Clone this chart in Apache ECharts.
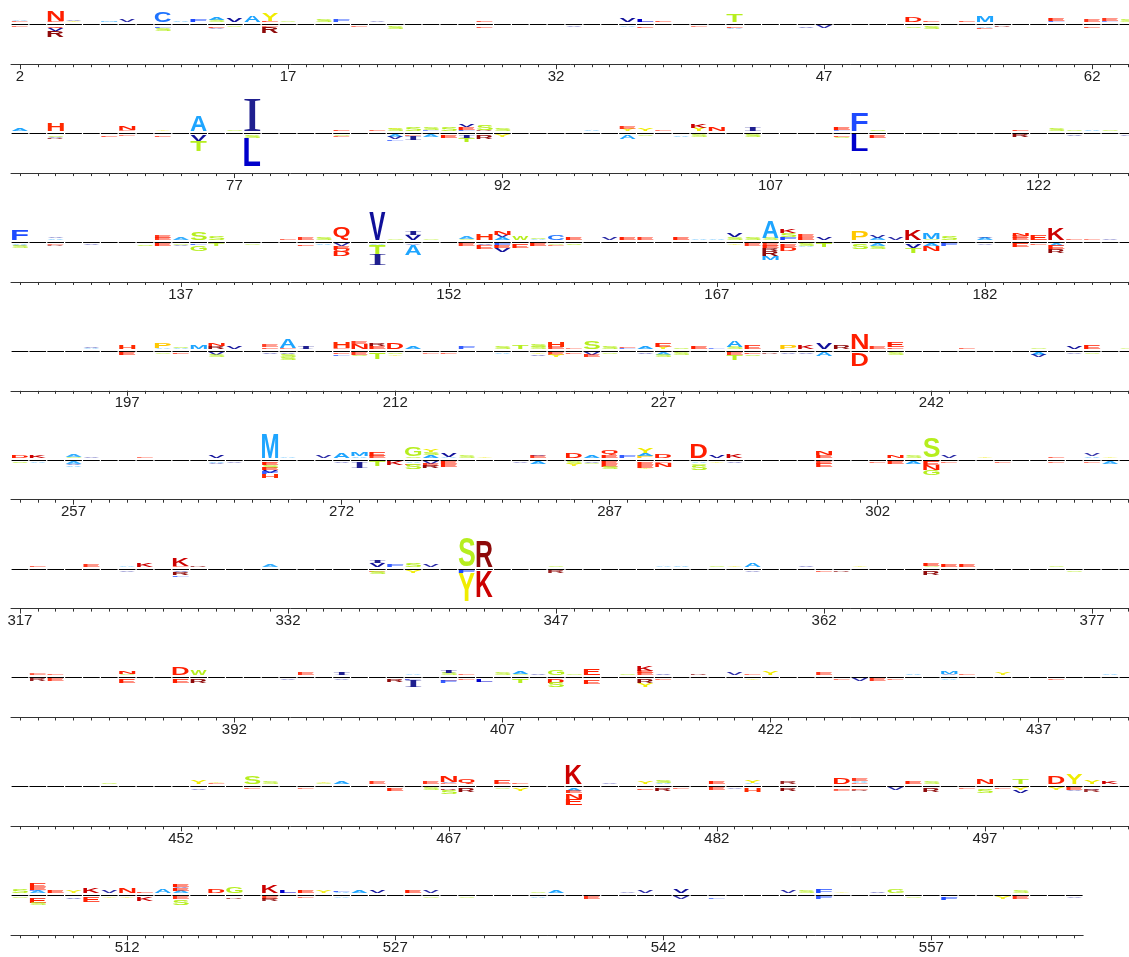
<!DOCTYPE html>
<html>
<head>
<meta charset="utf-8">
<script src="https://cdn.jsdelivr.net/npm/echarts@6/dist/echarts.min.js"></script>
<style>
html,body{margin:0;padding:0;background:#fff;overflow:hidden}
#chart{width:1129px;height:957px}
</style>
</head>
<body>
<div id="chart"></div>
<script>
// ---------------- DATA ----------------
// first residue number of each logo row and number of columns in the row
const rowStarts = [2, 65, 128, 191, 254, 317, 380, 443, 506];
const rowLengths = [63, 63, 63, 63, 63, 63, 63, 63, 60];
// labelled tick positions
const tickLabels = [2,17,32,47,62,77,92,107,122,137,152,167,182,197,212,227,242,257,272,287,302,317,332,347,362,377,392,407,422,437,452,467,482,497,512,527,542,557];

// [position, residue, signed height]; stacks are listed from the baseline outward
const rowLetters1 = [
 [2,'E',0.1],[2,'A',0.1],[2,'E',-0.1],[3,'A',0.05],
 [4,'E',0.15],[4,'N',1.0],[4,'Q',-0.2],[4,'V',-0.25],[4,'R',-0.6],
 [5,'Y',0.15],[5,'V',0.1],[6,'V',0.05],[7,'M',0.1],[8,'V',0.2],[9,'V',0.05],
 [10,'C',1.05],[10,'F',-0.15],[10,'S',-0.3],[11,'A',0.15],[12,'F',0.25],
 [13,'S',0.2],[13,'A',0.25],[13,'E',-0.15],[13,'V',-0.1],[14,'V',0.4],[14,'S',-0.1],
 [15,'A',0.6],[15,'V',-0.05],[16,'E',0.17],[16,'Y',0.77],[16,'E',-0.1],[16,'R',-0.6],
 [17,'S',0.1],[19,'S',0.25],[20,'F',0.2],[21,'E',-0.1],[22,'V',0.1],[23,'S',-0.25],
 [24,'Y',0.05],[26,'A',0.05],[28,'E',0.15],[28,'E',-0.15],[33,'V',-0.1],
 [36,'V',0.35],[36,'A',-0.1],[36,'V',-0.05],[37,'L',0.25],[37,'E',-0.15],[38,'E',0.15],
 [40,'E',-0.08],[42,'T',0.8],[42,'E',-0.15],[42,'A',-0.15],[46,'V',-0.15],[47,'V',-0.2],
 [48,'E',-0.05],[52,'D',0.45],[52,'S',-0.15],[53,'E',0.15],[53,'S',-0.25],
 [55,'E',0.15],[55,'S',-0.05],[56,'M',0.7],[56,'A',-0.15],[56,'E',-0.15],[57,'R',-0.1],
 [60,'F',0.15],[60,'E',0.25],[60,'V',-0.05],[62,'E',0.2],[62,'E',-0.15],
 [63,'F',0.1],[63,'E',0.2],[64,'S',0.2]
];
const rowLetters2 = [
 [65,'A',0.3],[67,'H',0.73],[67,'S',-0.15],[67,'V',-0.1],[67,'R',-0.15],[70,'E',-0.15],
 [71,'E',0.1],[71,'N',0.33],[71,'E',-0.1],[73,'Y',0.12],[73,'E',-0.15],
 [75,'A',1.6],[75,'V',-0.6],[75,'T',-1.0],[77,'S',0.12],
 [78,'I',3.2],[78,'S',-0.27],[78,'L',-2.83],
 [83,'E',0.17],[83,'S',-0.12],[83,'E',-0.12],[85,'E',0.13],
 [86,'S',0.25],[86,'Y',0.15],[86,'A',-0.2],[86,'V',-0.2],[86,'F',-0.15],
 [87,'S',0.35],[87,'E',-0.1],[87,'I',-0.35],[88,'F',0.1],[88,'S',0.3],[88,'A',-0.2],
 [89,'S',0.35],[89,'E',-0.3],[90,'F',0.15],[90,'E',0.3],[90,'V',0.3],[90,'I',-0.25],[90,'T',-0.4],
 [91,'R',0.1],[91,'S',0.45],[91,'R',-0.4],[92,'S',0.25],[92,'Y',-0.2],[97,'A',0.13],
 [99,'Y',0.2],[99,'E',0.2],[99,'A',-0.43],[100,'Y',0.27],[100,'S',-0.1],[101,'E',0.1],
 [102,'A',-0.15],[103,'Y',0.33],[103,'K',0.33],[103,'S',-0.2],[104,'N',0.33],
 [106,'I',0.4],[106,'A',0.05],[106,'S',-0.23],[111,'F',0.1],[111,'E',0.25],[111,'E',-0.15],[111,'S',-0.15],
 [112,'F',1.75],[112,'L',-1.6],[113,'S',0.17],[113,'E',-0.27],[121,'E',0.17],[121,'R',-0.23],
 [123,'S',0.23],[124,'S',0.13],[124,'V',-0.12],[125,'A',0.15],[126,'S',0.12],[127,'V',-0.12]
];
const rowLetters3 = [
 [128,'F',1.0],[128,'A',-0.15],[128,'V',-0.1],[128,'S',-0.2],
 [130,'A',0.15],[130,'V',0.12],[130,'E',-0.1],[130,'R',-0.1],[132,'V',-0.13],[135,'S',-0.17],
 [136,'E',0.2],[136,'E',0.2],[136,'E',-0.23],[137,'A',0.2],[137,'S',-0.12],[137,'V',-0.1],
 [138,'S',0.8],[138,'F',-0.15],[138,'G',-0.53],[139,'S',0.33],[139,'T',-0.2],[141,'S',-0.08],
 [143,'E',0.12],[144,'E',0.2],[144,'E',-0.17],[145,'S',0.27],[145,'A',-0.15],
 [146,'Q',1.27],[146,'V',-0.2],[146,'E',-0.3],[146,'Q',-0.3],[146,'D',-0.45],
 [148,'V',2.75],[148,'A',-0.1],[148,'T',-1.0],[148,'I',-1.05],[149,'S',0.08],
 [150,'V',0.5],[150,'I',0.35],[150,'V',-0.1],[150,'A',-1.0],[151,'S',0.08],
 [153,'S',0.1],[153,'A',0.2],[153,'E',-0.2],[154,'H',0.67],[154,'V',-0.15],[154,'E',-0.35],
 [155,'A',0.25],[155,'V',0.2],[155,'N',0.35],[155,'F',-0.2],[155,'E',-0.25],[155,'V',-0.35],
 [156,'W',0.4],[156,'E',-0.4],[157,'A',0.12],[157,'S',0.15],[157,'E',-0.25],
 [158,'C',0.47],[158,'S',-0.1],[158,'E',-0.1],[159,'E',0.23],[159,'S',-0.15],
 [161,'V',0.2],[162,'E',0.23],[163,'E',0.2],[165,'E',0.27],[166,'A',0.12],[167,'A',0.12],
 [168,'S',0.27],[168,'V',0.33],[168,'Y',-0.15],[169,'S',0.27],[169,'E',-0.2],
 [170,'S',0.2],[170,'A',1.67],[170,'E',-0.2],[170,'E',-0.25],[170,'R',-0.3],[170,'R',-0.45],[170,'M',-0.4],
 [171,'F',0.3],[171,'S',0.35],[171,'K',0.33],[171,'E',-0.3],[171,'D',-0.4],
 [172,'E',0.25],[172,'E',0.22],[172,'S',-0.25],[172,'A',-0.1],[173,'V',0.3],[173,'T',-0.33],
 [175,'P',0.93],[175,'S',-0.5],[176,'A',0.2],[176,'V',0.2],[176,'A',-0.2],[176,'S',-0.3],
 [177,'V',0.2],[178,'K',1.07],[178,'A',-0.1],[178,'V',-0.35],[178,'T',-0.45],
 [179,'S',0.1],[179,'M',0.6],[179,'A',-0.25],[179,'N',-0.5],[180,'S',0.4],[180,'F',-0.2],
 [182,'A',0.2],[182,'V',0.17],[182,'V',-0.08],[184,'E',0.2],[184,'E',0.2],[184,'N',0.27],[184,'E',-0.33],
 [185,'E',0.47],[185,'E',-0.12],[186,'K',1.2],[186,'A',-0.2],[186,'E',-0.33],[186,'R',-0.33],
 [187,'E',0.1],[188,'E',0.08],[189,'V',0.1]
];
const rowLetters4 = [
 [191,'E',0.05],[195,'A',0.1],[195,'V',0.13],[197,'H',0.43],[197,'E',-0.23],
 [199,'A',0.1],[199,'P',0.47],[199,'S',-0.1],[200,'A',0.12],[200,'S',0.15],[200,'E',-0.15],
 [201,'M',0.4],[201,'S',-0.05],[202,'R',0.3],[202,'N',0.23],[202,'V',-0.2],[202,'S',-0.2],
 [203,'V',0.23],[205,'E',0.15],[205,'E',0.18],[205,'V',-0.15],
 [206,'E',0.1],[206,'A',0.87],[206,'V',-0.15],[206,'S',-0.25],[206,'S',-0.3],[207,'I',0.33],
 [209,'E',0.1],[209,'H',0.6],[209,'E',-0.15],[209,'F',-0.15],
 [210,'N',0.45],[210,'E',0.2],[210,'E',-0.2],[210,'S',-0.15],
 [211,'E',0.3],[211,'R',0.3],[211,'T',-0.6],[212,'D',0.67],[212,'S',-0.15],[212,'Y',-0.12],
 [213,'A',0.27],[214,'E',-0.08],[215,'E',-0.12],[216,'F',0.2],[218,'S',0.27],[218,'A',-0.13],
 [219,'T',0.4],[220,'S',0.2],[220,'S',0.3],[220,'Y',-0.15],[220,'V',-0.15],
 [221,'E',0.2],[221,'H',0.53],[221,'E',-0.2],[221,'Y',-0.2],[222,'E',0.08],[222,'E',-0.12],
 [223,'S',0.73],[223,'V',-0.2],[223,'E',-0.2],[224,'S',0.25],[224,'S',-0.13],
 [225,'F',0.13],[225,'E',0.13],[226,'A',0.27],[226,'V',-0.15],
 [227,'Y',0.2],[227,'E',0.4],[227,'A',-0.2],[227,'S',-0.2],[228,'S',0.15],[228,'S',-0.2],
 [229,'E',0.27],[230,'F',0.1],[231,'S',0.2],[231,'A',0.6],[231,'E',-0.2],[231,'T',-0.47],
 [232,'E',0.4],[232,'E',-0.15],[232,'S',-0.15],[233,'R',-0.1],[234,'P',0.43],[234,'V',-0.13],
 [235,'K',0.4],[235,'V',-0.13],[236,'V',0.67],[236,'A',-0.33],[237,'R',0.43],
 [238,'N',1.6],[238,'D',-1.33],[239,'E',0.2],[240,'E',0.15],[240,'E',0.45],[240,'S',-0.2],
 [244,'E',0.12],[248,'S',0.12],[248,'A',-0.25],[248,'V',-0.2],[250,'V',0.27],[250,'V',-0.1],
 [251,'E',0.33],[251,'S',-0.1],[253,'S',0.08]
];
const rowLetters5 = [
 [254,'D',0.27],[254,'S',-0.15],[255,'K',0.27],[255,'A',-0.12],
 [257,'S',0.12],[257,'A',0.2],[257,'A',-0.2],[257,'V',-0.15],[257,'A',-0.15],[258,'V',0.1],
 [261,'E',0.1],[265,'V',0.27],[265,'A',-0.15],[265,'V',-0.12],[266,'V',-0.1],
 [268,'M',2.45],[268,'E',-0.1],[268,'E',-0.27],[268,'S',-0.23],[268,'E',-0.23],[268,'V',-0.25],[268,'F',-0.2],[268,'H',-0.33],
 [269,'A',0.1],[271,'V',0.2],[272,'A',0.47],[272,'V',-0.12],
 [273,'A',0.15],[273,'M',0.33],[273,'I',-0.6],[274,'E',0.2],[274,'E',0.4],[274,'T',-0.47],
 [275,'K',-0.33],[276,'S',0.15],[276,'G',0.87],[276,'A',-0.15],[276,'E',-0.15],[276,'S',-0.47],
 [277,'A',0.3],[277,'S',0.3],[277,'Y',0.3],[277,'V',-0.2],[277,'E',-0.2],[277,'R',-0.25],
 [278,'A',0.1],[278,'V',0.37],[278,'E',-0.25],[278,'E',-0.3],[279,'S',0.2],[280,'Y',0.12],
 [282,'V',-0.1],[283,'E',0.2],[283,'V',0.13],[283,'A',-0.27],
 [285,'D',0.47],[285,'S',-0.2],[285,'Y',-0.2],[286,'A',0.27],[286,'V',-0.1],[286,'S',-0.1],
 [287,'E',0.3],[287,'Q',0.47],[287,'E',-0.25],[287,'E',-0.25],[287,'S',-0.25],[288,'F',0.2],
 [289,'P',0.2],[289,'A',0.27],[289,'Y',0.47],[289,'E',-0.3],[289,'E',-0.3],[289,'Y',-0.15],
 [290,'D',0.4],[290,'E',-0.1],[290,'N',-0.4],
 [292,'D',1.4],[292,'A',-0.15],[292,'S',-0.15],[292,'S',-0.55],
 [293,'V',0.27],[293,'Y',-0.12],[294,'K',0.4],[294,'V',-0.12],
 [299,'E',0.27],[299,'N',0.33],[299,'E',-0.2],[299,'E',-0.35],[302,'E',-0.1],
 [303,'N',0.27],[303,'E',-0.27],[304,'S',0.2],[304,'A',-0.27],
 [305,'S',1.93],[305,'E',-0.33],[305,'N',-0.5],[305,'G',-0.47],[306,'V',0.2],[306,'E',-0.1],
 [308,'Y',0.13],[309,'E',-0.1],[312,'E',0.13],[312,'E',-0.1],
 [314,'A',0.15],[314,'V',0.18],[314,'E',-0.1],[315,'Y',0.1],[315,'A',-0.2]
];
const rowLetters6 = [
 [318,'E',0.13],[321,'E',0.2],[323,'A',0.1],[323,'V',-0.1],[324,'K',0.33],
 [326,'E',0.1],[326,'K',0.73],[326,'V',-0.15],[326,'R',-0.3],[326,'F',-0.15],[327,'R',0.13],
 [331,'A',0.2],[337,'V',0.35],[337,'I',0.3],[337,'E',-0.12],[337,'S',-0.25],[338,'F',0.2],
 [339,'S',0.37],[339,'Y',-0.23],[339,'E',-0.05],[340,'V',0.2],
 [342,'S',2.9],[342,'F',-0.27],[342,'Y',-2.8],[343,'R',2.6],[343,'K',-2.6],
 [347,'S',0.1],[347,'R',-0.2],[353,'A',0.08],[354,'A',0.13],[356,'S',0.1],[357,'Y',0.12],
 [358,'A',0.33],[358,'V',-0.1],[361,'V',0.13],[362,'E',-0.12],[363,'R',-0.12],[364,'Y',0.1],
 [368,'S',0.1],[368,'E',0.25],[368,'R',-0.43],[369,'E',0.27],[370,'E',0.27],[375,'S',0.1],[376,'S',-0.12]
];
const rowLetters7 = [
 [381,'E',0.15],[381,'E',0.12],[381,'R',-0.2],[382,'E',0.12],[382,'E',-0.2],
 [386,'S',0.1],[386,'N',0.27],[386,'E',-0.4],[389,'D',0.73],[389,'E',-0.33],
 [390,'W',0.47],[390,'R',-0.4],[395,'V',-0.1],[396,'E',0.2],[398,'I',0.33],[398,'V',-0.1],
 [401,'R',-0.27],[402,'A',0.1],[402,'L',-0.1],[402,'I',-0.7],
 [404,'S',0.2],[404,'I',0.33],[404,'E',-0.15],[404,'F',-0.2],[405,'E',0.1],[405,'E',-0.1],
 [406,'L',-0.27],[407,'S',0.2],[408,'S',0.12],[408,'A',0.27],[408,'T',-0.33],[409,'V',0.13],
 [410,'G',0.47],[410,'D',-0.33],[410,'S',-0.47],[411,'S',0.12],[412,'E',0.67],[412,'E',-0.43],
 [414,'S',0.13],[415,'E',0.2],[415,'E',0.2],[415,'K',0.47],[415,'R',-0.4],[415,'Y',-0.35],
 [416,'V',0.15],[416,'E',-0.1],[418,'R',0.13],[420,'V',0.2],[421,'E',0.1],[421,'Y',-0.1],
 [422,'Y',0.37],[425,'E',0.2],[426,'E',-0.1],[427,'V',-0.2],[428,'E',-0.2],[429,'E',-0.1],
 [430,'A',0.15],[432,'V',0.1],[432,'M',0.3],[432,'A',-0.1],[433,'E',0.1],[435,'Y',0.2],
 [438,'E',-0.1],[441,'A',0.13]
];
const rowLetters8 = [
 [448,'S',0.13],[453,'Y',0.33],[453,'V',-0.13],[454,'E',0.1],[454,'Y',0.1],
 [456,'S',0.73],[456,'E',-0.1],[457,'S',0.2],[459,'E',-0.1],[460,'S',0.1],[460,'Y',0.17],
 [461,'A',0.23],[463,'E',0.2],[464,'E',-0.27],[466,'E',0.2],[466,'S',-0.2],
 [467,'E',0.1],[467,'V',0.1],[467,'N',0.67],[467,'R',-0.15],[467,'S',-0.43],
 [468,'Q',0.4],[468,'R',-0.33],[470,'E',0.33],[470,'S',-0.1],[471,'E',0.12],[471,'Y',-0.27],
 [474,'K',1.87],[474,'A',-0.27],[474,'E',-0.2],[474,'N',-0.55],[474,'E',-0.6],
 [476,'V',0.1],[478,'Y',0.27],[478,'E',-0.15],[479,'A',0.15],[479,'S',0.25],[479,'R',-0.27],
 [480,'E',-0.1],[482,'E',0.3],[482,'E',-0.2],[483,'V',-0.1],
 [484,'A',0.15],[484,'Y',0.28],[484,'H',-0.33],[486,'R',0.2],[486,'R',-0.27],
 [489,'D',0.67],[489,'E',-0.15],[489,'E',-0.12],
 [490,'E',0.1],[490,'A',0.12],[490,'A',0.12],[490,'E',0.2],[490,'E',-0.15],[490,'R',-0.12],
 [492,'V',-0.2],[493,'E',0.27],[494,'S',0.2],[494,'R',-0.37],[496,'E',0.05],[496,'E',-0.1],
 [497,'N',0.47],[497,'S',-0.43],[498,'E',-0.1],[499,'T',0.53],[499,'Y',-0.2],[499,'V',-0.27],
 [501,'D',0.8],[501,'Y',-0.2],[502,'Y',1.07],[502,'E',-0.2],[502,'V',-0.1],
 [503,'Y',0.4],[503,'V',-0.15],[503,'R',-0.18],[504,'K',0.27]
];
const rowLetters9 = [
 [506,'S',0.33],[506,'S',-0.12],
 [507,'A',0.2],[507,'F',0.1],[507,'E',0.3],[507,'E',0.4],[507,'A',-0.15],[507,'E',-0.45],[507,'S',-0.2],
 [508,'E',0.27],[509,'Y',0.2],[509,'V',-0.17],[510,'K',0.53],[510,'E',-0.5],
 [511,'V',0.2],[511,'Y',-0.1],[512,'N',0.53],[512,'Y',-0.12],[513,'E',0.15],[513,'K',-0.4],
 [514,'A',0.33],[515,'A',0.2],[515,'E',0.3],[515,'V',0.15],[515,'E',0.3],[515,'E',-0.2],[515,'S',-0.57],
 [517,'D',0.33],[518,'G',0.63],[518,'R',-0.13],[520,'K',0.8],[520,'E',-0.2],[520,'R',-0.2],
 [521,'L',0.27],[522,'E',0.27],[522,'E',-0.1],[523,'Y',0.2],[524,'A',0.15],[524,'F',0.18],[524,'A',-0.08],
 [525,'A',0.27],[526,'V',0.27],[528,'E',0.27],[529,'V',0.2],[529,'S',-0.08],[531,'S',-0.08],
 [535,'S',0.1],[535,'A',-0.1],[536,'A',0.27],[538,'E',-0.2],[540,'V',0.1],[541,'V',0.2],
 [543,'V',0.4],[543,'V',-0.2],[545,'F',-0.13],[549,'V',0.2],[550,'S',0.2],[551,'F',0.33],[551,'F',-0.2],
 [552,'Y',0.08],[554,'V',0.15],[555,'G',0.33],[556,'S',-0.08],[558,'F',-0.27],[561,'Y',-0.2],
 [562,'S',0.2],[562,'E',-0.2],[565,'V',-0.1]
];
const allRowLetters = [rowLetters1,rowLetters2,rowLetters3,rowLetters4,rowLetters5,rowLetters6,rowLetters7,rowLetters8,rowLetters9];

// ---------------- STYLE ----------------
const aaColors = {
  A:'#1EA5FF', M:'#1EA5FF', C:'#1F74FF', F:'#1F4BFF', L:'#0000CC', I:'#1F1F8F', V:'#10109A',
  W:'#B6EE1E', S:'#B6EE1E', T:'#B6EE1E', G:'#B6EE1E', Y:'#F0EC00', P:'#FFC800',
  N:'#FF1E00', D:'#FF1E00', E:'#FF1E00', Q:'#FF1E00', H:'#FF2A00', K:'#CC0000', R:'#8E0A0A'
};
const COL_W = 17.87, LEFT = 11, BASE0 = 24.2, ROW_STEP = 108.88, HALF = 40;
const LETTER_GAP = 2, PAD = 0.8;
const fontFor = ch => ch === 'I' ? '100px "Liberation Serif"' : 'bold 100px "Liberation Sans"';

const mctx = document.createElement('canvas').getContext('2d');
const glyphBoxes = {};
Object.keys(aaColors).forEach(ch => {
  mctx.font = fontFor(ch);
  mctx.textBaseline = 'middle';
  mctx.textAlign = 'left';
  const m = mctx.measureText(ch);
  glyphBoxes[ch] = {l: -m.actualBoundingBoxLeft, r: m.actualBoundingBoxRight, t: -m.actualBoundingBoxAscent, b: m.actualBoundingBoxDescent};
});

function letterEl(ch, X0, X1, Y0, Y1) {
  const g = glyphBoxes[ch];
  const sx = (X1 - X0) / (g.r - g.l), sy = (Y1 - Y0) / (g.b - g.t);
  const h = Y1 - Y0;
  return {
    type: 'text', x: X0 - g.l * sx, y: Y0 - g.t * sy, scaleX: sx, scaleY: sy, silent: true,
    style: {text: ch, x: 0, y: 0, font: fontFor(ch), fill: aaColors[ch],
            opacity: Math.min(1, 0.3 + 0.3 * h),
            align: 'left', verticalAlign: 'middle', textAlign: 'left', textVerticalAlign: 'middle'}
  };
}

const isLabelled = (idx, val) => tickLabels.indexOf(Number(val)) >= 0;

const grids = [], xAxes = [], yAxes = [], series = [];
rowStarts.forEach((start, k) => {
  const len = rowLengths[k];
  const positions = [];
  for (let j = 0; j < len; j++) positions.push(start + j);
  const stacks = {};
  allRowLetters[k].forEach(([p, ch, v]) => { (stacks[p] = stacks[p] || []).push([ch, v]); });
  const base = BASE0 + ROW_STEP * k;
  grids.push({left: LEFT, top: base - HALF, width: COL_W * len, height: HALF * 2,
              containLabel: false, outerBoundsMode: 'none'});
  const cats = positions.map(String);
  xAxes.push({
    type: 'category', gridIndex: k, data: cats, position: 'bottom', boundaryGap: true,
    axisLine: {show: true, onZero: false, lineStyle: {color: '#333', width: 1}},
    axisTick: {show: true, interval: 0, alignWithLabel: true, length: 3, lineStyle: {color: '#333', width: 1}},
    axisLabel: {show: true, interval: isLabelled, color: '#222', fontSize: 15, fontFamily: '"Liberation Sans", Arial, sans-serif', margin: 5},
    splitLine: {show: false}
  });
  yAxes.push({type: 'value', gridIndex: k, min: -4, max: 4, show: false});
  series.push({
    type: 'custom', xAxisIndex: k, yAxisIndex: k, clip: false, silent: true, animation: false,
    data: positions.map((p, j) => [j]),
    renderItem: function (params, api) {
      const j = api.value(0);
      const pos = positions[j];
      const c = api.coord([j, 0]);
      const sz = api.size([1, 1]);
      const bw = sz[0], unit = sz[1];
      const x0 = c[0] - bw / 2, x1 = c[0] + bw / 2;
      const yb = c[1];
      const yl = Math.round(yb) + 0.5;
      const children = [{type: 'line', silent: true, shape: {x1: x0 + 0.6, y1: yl, x2: x1 - 0.6, y2: yl},
                         style: {stroke: '#000', lineWidth: 1}}];
      let up = yb - LETTER_GAP, down = yb + LETTER_GAP;
      (stacks[pos] || []).forEach(([ch, v]) => {
        const h = Math.abs(v) * unit;
        let top, bottom;
        if (v > 0) { bottom = up; top = up - h; up = top; }
        else { top = down; bottom = down + h; down = bottom; }
        children.push(letterEl(ch, x0 + PAD, x1 - PAD, top, bottom));
      });
      return {type: 'group', children: children};
    }
  });
});
// longer ticks at the labelled positions
rowStarts.forEach((start, k) => {
  const cats = [];
  for (let j = 0; j < rowLengths[k]; j++) cats.push(String(start + j));
  xAxes.push({
    type: 'category', gridIndex: k, data: cats, position: 'bottom', boundaryGap: true,
    axisLine: {show: false, onZero: false},
    axisTick: {show: true, interval: isLabelled, alignWithLabel: true, length: 5, lineStyle: {color: '#333', width: 1}},
    axisLabel: {show: false}, splitLine: {show: false}
  });
});

const chart = echarts.init(document.getElementById('chart'), null, {renderer: 'canvas'});
chart.setOption({
  animation: false,
  backgroundColor: '#fff',
  grid: grids, xAxis: xAxes, yAxis: yAxes, series: series
});
</script>
</body>
</html>
